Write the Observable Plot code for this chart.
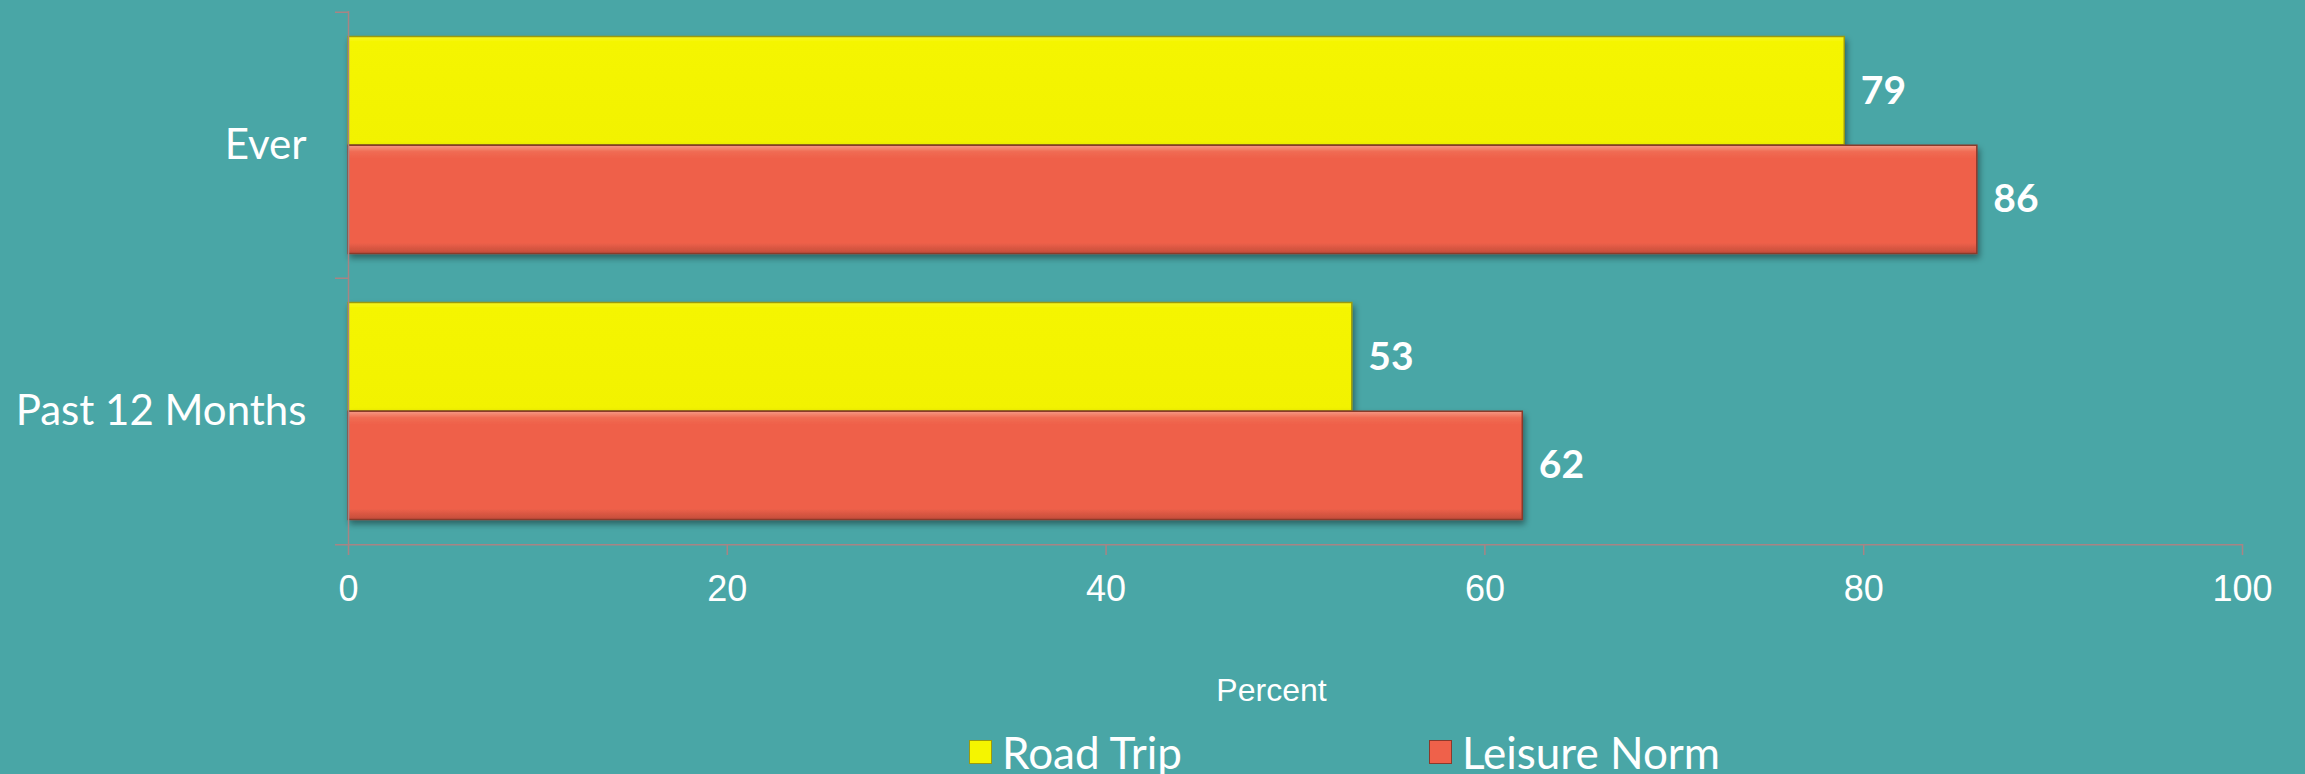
<!DOCTYPE html>
<html>
<head>
<meta charset="utf-8">
<script src="https://cdn.jsdelivr.net/npm/d3@7"></script>
<script src="https://cdn.jsdelivr.net/npm/@observablehq/plot@0.6"></script>
<style>
  html, body { margin: 0; padding: 0; background: #49A6A6; width: 2305px; height: 774px; overflow: hidden; }
  #chart svg { display: block; }
  #legend { position: relative; height: 44px; width: 2305px; font-family: Lato, "Open Sans", sans-serif; font-size: 44px; color: #fff; }
  #legend .item { position: absolute; top: 0; height: 44px; display: flex; align-items: center; white-space: nowrap; }
  #legend .sw { width: 23px; height: 24px; margin-right: 10px; box-sizing: border-box; }
</style>
</head>
<body>
<div id="chart"></div>
<div id="legend"></div>
<script>
// ---- data ----
const categories = ["Ever", "Past 12 Months"];
const seriesNames = ["Road Trip", "Leisure Norm"];
const roadTrip = [79, 53];
const leisureNorm = [86, 62];
const xTicks = [0, 20, 40, 60, 80, 100];
const xLabel = "Percent";

// ---- styles ----
const yellow = "#F5F500";
const yellowStroke = "#9A9A10";
const red = "#EF614A";
const redStroke = "#8A3A2C";
const axisColor = "#A88484";

const W = 2305, H = 730;
const mTop = 11, mBottom = 186, mLeft = 348, mRight = 63;
const half = (H - mTop - mBottom) / categories.length / 2;
const outerInset = 24.5;

const rtRows = categories.map((c, i) => ({category: c, series: seriesNames[0], value: roadTrip[i]}));
const lnRows = categories.map((c, i) => ({category: c, series: seriesNames[1], value: leisureNorm[i]}));

const svg = Plot.plot({
  width: W,
  height: H,
  marginTop: mTop,
  marginBottom: mBottom,
  marginLeft: mLeft,
  marginRight: mRight,
  style: {background: "transparent", color: "white", overflow: "visible"},
  x: {domain: [0, 100]},
  y: {domain: categories, padding: 0},
  marks: [
    Plot.barX(rtRows, {x: "value", y: "category", fill: "url(#gYellow)", stroke: yellowStroke, strokeWidth: 1.5,
      insetTop: outerInset, insetBottom: half}),
    Plot.barX(lnRows, {x: "value", y: "category", fill: "url(#gRed)", stroke: redStroke, strokeWidth: 1.5,
      insetTop: half, insetBottom: outerInset}),
    Plot.ruleX([0], {stroke: axisColor, strokeWidth: 1.5}),
    Plot.ruleY([categories[categories.length - 1]], {y: d => d, dy: half, stroke: axisColor, strokeWidth: 1.5, insetLeft: -13}),
    Plot.ruleY(categories, {y: d => d, dy: -half, x1: 0, x2: 0, insetLeft: -13, stroke: axisColor, strokeWidth: 1.5}),
    Plot.axisX({ticks: xTicks, tickSize: 11, tickPadding: 20, stroke: axisColor, strokeWidth: 1.5,
      fontSize: 36, fontFamily: "'Liberation Sans', Arial, sans-serif", label: null}),
    Plot.axisY({tickSize: 0, tickPadding: 42, fontSize: 42, fontFamily: "Lato, sans-serif", label: null}),
    Plot.text(rtRows, {x: "value", y: "category", text: d => String(d.value), dx: 16, dy: -(half - outerInset) / 2,
      textAnchor: "start", fontSize: 39, fontWeight: "bold", fontFamily: "Lato, sans-serif", fill: "white"}),
    Plot.text(lnRows, {x: "value", y: "category", text: d => String(d.value), dx: 16, dy: (half - outerInset) / 2,
      textAnchor: "start", fontSize: 39, fontWeight: "bold", fontFamily: "Lato, sans-serif", fill: "white"}),
    Plot.text([xLabel], {text: d => d, frameAnchor: "bottom", dx: -24, dy: 146, lineAnchor: "middle",
      fontSize: 32, fontFamily: "'Liberation Sans', Arial, sans-serif", fill: "white"})
  ]
});

// gradients and shadow
const defs = d3.select(svg).insert("defs", ":first-child");
const gy = defs.append("linearGradient").attr("id", "gYellow").attr("x1", 0).attr("y1", 0).attr("x2", 0).attr("y2", 1);
gy.append("stop").attr("offset", "0%").attr("stop-color", "#F8F820");
gy.append("stop").attr("offset", "5%").attr("stop-color", yellow);
gy.append("stop").attr("offset", "100%").attr("stop-color", "#F2F200");
const gr = defs.append("linearGradient").attr("id", "gRed").attr("x1", 0).attr("y1", 0).attr("x2", 0).attr("y2", 1);
gr.append("stop").attr("offset", "0%").attr("stop-color", "#F59A85");
gr.append("stop").attr("offset", "6%").attr("stop-color", "#F06B53");
gr.append("stop").attr("offset", "12%").attr("stop-color", red);
gr.append("stop").attr("offset", "90%").attr("stop-color", red);
gr.append("stop").attr("offset", "100%").attr("stop-color", "#C24C3A");
const f = defs.append("filter").attr("id", "shadow").attr("x", "-5%").attr("y", "-20%").attr("width", "110%").attr("height", "150%");
f.append("feDropShadow").attr("dx", 2).attr("dy", 4).attr("stdDeviation", 3).attr("flood-color", "#000").attr("flood-opacity", 0.4);
d3.select(svg).selectAll('g[aria-label="bar"]').attr("filter", "url(#shadow)");

document.getElementById("chart").appendChild(svg);

// legend
const legend = document.getElementById("legend");
const legendItems = [
  {name: seriesNames[0], fill: yellow, stroke: yellowStroke, left: 969},
  {name: seriesNames[1], fill: red, stroke: redStroke, left: 1429}
];
legendItems.forEach(it => {
  const d = document.createElement("div");
  d.className = "item";
  d.style.left = it.left + "px";
  const s = document.createElement("span");
  s.className = "sw";
  s.style.background = it.fill;
  s.style.border = "1.5px solid " + it.stroke;
  const t = document.createElement("span");
  t.textContent = it.name;
  d.appendChild(s);
  d.appendChild(t);
  legend.appendChild(d);
});
</script>
</body>
</html>
